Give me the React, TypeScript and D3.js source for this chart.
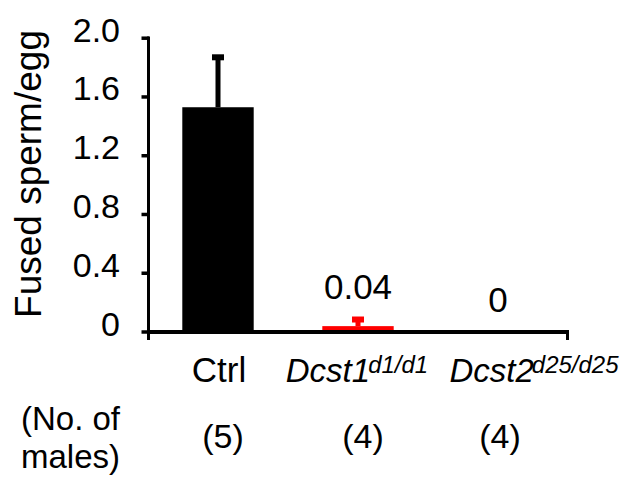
import React from "react";
import * as d3 from "d3";

const categories = ["Ctrl", "Dcst1", "Dcst2"];
const catSup = ["", "d1/d1", "d25/d25"];
const catItalic = [false, true, true];
const values = [1.53, 0.04, 0];
const errors = [0.34, 0.045, 0];
const barColors = ["#000000", "#ff0000", "#ff0000"];
const valueLabels = ["", "0.04", "0"];
const yTicks = [0, 0.4, 0.8, 1.2, 1.6, 2.0];
const yTickLabels = ["0", "0.4", "0.8", "1.2", "1.6", "2.0"];
const maleCounts = ["(5)", "(4)", "(4)"];
const yTitle = "Fused sperm/egg";
const rowTitle = ["(No. of", "males)"];

const W = 631;
const H = 477;
const FONT = "'Liberation Sans', Arial, sans-serif";
const FS = 34;
const catLabelDx = [1, -1, 36];
const countDx = [5, 5, 2];

export default function App() {
  const x = d3.scaleBand<string>().domain(categories).range([148, 568]).paddingInner(0.49).paddingOuter(0.245);
  const y = d3.scaleLinear().domain([0, 2]).range([332, 38.2]);
  const y0 = y(0);

  return (
    <svg width={W} height={H} style={{ position: "absolute", left: 0, top: 0, background: "#fff" }} fontFamily={FONT}>
      {/* bars */}
      {categories.map((c, i) => {
        const bx = x(c)!;
        const bw = x.bandwidth();
        const cx = bx + bw / 2;
        const top = y(values[i]);
        const et = y(values[i] + errors[i]);
        return (
          <g key={c}>
            <rect x={bx} y={top} width={bw} height={y0 - top} fill={barColors[i]} />
            {errors[i] > 0 && (
              <g fill={barColors[i]}>
                <rect x={cx - 2.5} y={et} width={5} height={top - et} />
                <rect x={cx - 6} y={et - 3} width={12} height={6} />
              </g>
            )}
            {valueLabels[i] && (
              <text x={cx} y={y(values[i] + errors[i]) - 20.5} textAnchor="middle" fontSize={FS + 1} fill="#000">
                {valueLabels[i]}
              </text>
            )}
          </g>
        );
      })}
      {/* axes */}
      <line x1={148.5} x2={148.5} y1={36.5} y2={340} stroke="#000" strokeWidth={3} />
      <line x1={148} x2={569} y1={y0} y2={y0} stroke="#000" strokeWidth={4} />
      <line x1={567.5} x2={567.5} y1={y0} y2={340} stroke="#000" strokeWidth={3} />
      {yTicks.map((t, i) => (
        <g key={t}>
          <line x1={141.5} x2={149} y1={y(t)} y2={y(t)} stroke="#000" strokeWidth={3.5} />
          <text x={120} y={y(t) + 3.5} textAnchor="end" fontSize={FS} fill="#000">
            {yTickLabels[i]}
          </text>
        </g>
      ))}
      <text transform={`translate(41,174) rotate(-90)`} textAnchor="middle" fontSize={37} fill="#000">
        {yTitle}
      </text>
      {/* category labels */}
      {categories.map((c, i) => (
        <text key={c} x={x(c)! + x.bandwidth() / 2 + catLabelDx[i]} y={382} textAnchor="middle" fontSize={catItalic[i] ? 33 : 35} fill="#000" fontStyle={catItalic[i] ? "italic" : "normal"}>
          <tspan>{c}</tspan>
          {catSup[i] && (
            <tspan dx={-2} dy={-9} fontSize={24}>
              {catSup[i]}
            </tspan>
          )}
        </text>
      ))}
      {/* male counts */}
      <text x={21} y={430} fontSize={33} fill="#000">{rowTitle[0]}</text>
      <text x={21} y={468} fontSize={33} fill="#000">{rowTitle[1]}</text>
      {categories.map((c, i) => (
        <text key={c} x={x(c)! + x.bandwidth() / 2 + countDx[i]} y={448} textAnchor="middle" fontSize={FS} fill="#000">
          {maleCounts[i]}
        </text>
      ))}
    </svg>
  );
}
